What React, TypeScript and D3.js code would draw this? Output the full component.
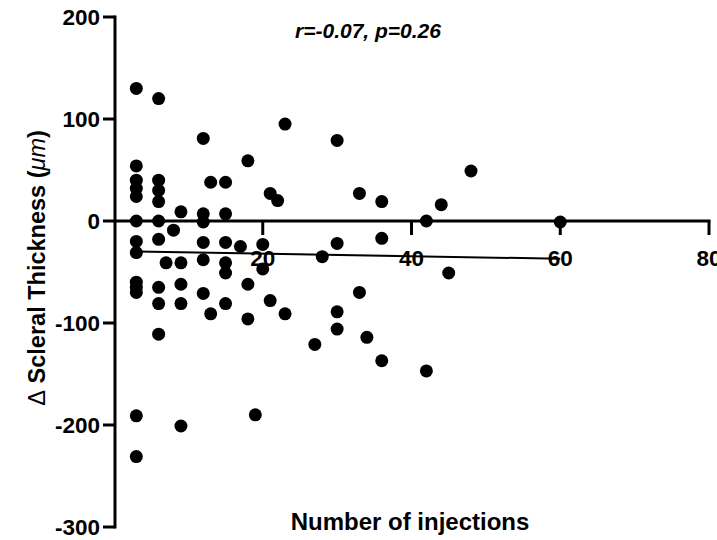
import React from 'react';
import * as d3 from 'd3';

// number of injections (x) and change in scleral thickness in µm (y), one entry per eye
const injections = [
  3, 3, 3, 3, 3, 3, 3, 3, 3, 3, 3, 3, 3,
  6, 6, 6, 6, 6, 6, 6, 6, 6,
  7, 8,
  9, 9, 9, 9, 9,
  12, 12, 12, 12, 12, 12,
  13, 13,
  15, 15, 15, 15, 15, 15,
  17, 18, 18, 18, 19, 20, 20, 21, 21, 22, 23, 23,
  27, 28, 30, 30, 30, 30, 33, 33, 34, 36, 36, 36,
  42, 42, 44, 45, 48, 60,
];
const thickness = [
  130, 54, 40, 32, 24, 0, -20, -31, -60, -65, -70, -191, -231,
  120, 40, 30, 19, 0, -18, -65, -81, -111,
  -41, -9,
  9, -41, -62, -81, -201,
  81, 7, -1, -21, -38, -71,
  38, -91,
  38, 7, -21, -41, -51, -81,
  -25, 59, -62, -96, -190, -23, -47, 27, -78, 20, 95, -91,
  -121, -35, 79, -22, -89, -106, 27, -70, -114, 19, -17, -137,
  0, -147, 16, -51, 49, -1,
];

// linear fit, end points
const fitX = [3, 60];
const fitY = [-30, -37];

const xTicks = [20, 40, 60, 80];
const yTicks = [200, 100, 0, -100, -200, -300];
const statsLabel = 'r=-0.07, p=0.26';

const W = 717;
const H = 540;

export default function App() {
  const x = d3.scaleLinear().domain([0, 80]).range([114, 709]);
  const y = d3.scaleLinear().domain([-300, 200]).range([527, 17]);
  const font = 'Arial, "Liberation Sans", sans-serif';
  const axisX = x(0) + 1;
  const y0 = y(0);
  const fit = d3.line<number>().x(d => x(d)).y((d, i) => y(fitY[i]));

  return (
    <svg width={W} height={H} style={{ position: 'absolute', left: 0, top: 0, background: '#fff' }}
      fontFamily={font} fontWeight="bold">
      {/* y axis */}
      <line x1={axisX} x2={axisX} y1={y(200) - 1.5} y2={y(-300) + 1.5} stroke="#000" strokeWidth={3} />
      {yTicks.map(t => (
        <g key={t}>
          <line x1={axisX - 12} x2={axisX} y1={y(t)} y2={y(t)} stroke="#000" strokeWidth={3} />
          <text x={axisX - 15} y={y(t)} dy="0.36em" textAnchor="end" fontSize={22.5}>{t}</text>
        </g>
      ))}
      {/* x axis drawn at y = 0 */}
      <line x1={axisX} x2={x(80) + 1.5} y1={y0} y2={y0} stroke="#000" strokeWidth={3} />
      {xTicks.map(t => (
        <g key={t}>
          <line x1={x(t)} x2={x(t)} y1={y0} y2={y0 + 14} stroke="#000" strokeWidth={3} />
          <text x={x(t)} y={y0 + 45} textAnchor="middle" fontSize={22.5}>{t}</text>
        </g>
      ))}
      <path d={fit(fitX) || ''} fill="none" stroke="#000" strokeWidth={2} />
      {injections.map((v, i) => (
        <circle key={i} cx={x(v)} cy={y(thickness[i])} r={6.5} fill="#000" />
      ))}
      <text x={368} y={38} textAnchor="middle" fontSize={21} fontStyle="italic">{statsLabel}</text>
      <text x={410} y={530} textAnchor="middle" fontSize={24}>Number of injections</text>
      <text transform={`translate(45, ${y(-46)}) rotate(-90)`} textAnchor="middle" fontSize={23.5}>
        <tspan fontWeight="normal">{'\u0394'}</tspan>
        {' Scleral Thickness ('}
        <tspan fontStyle="italic" fontWeight="normal">{'\u03bcm'}</tspan>
        {')'}
      </text>
    </svg>
  );
}
